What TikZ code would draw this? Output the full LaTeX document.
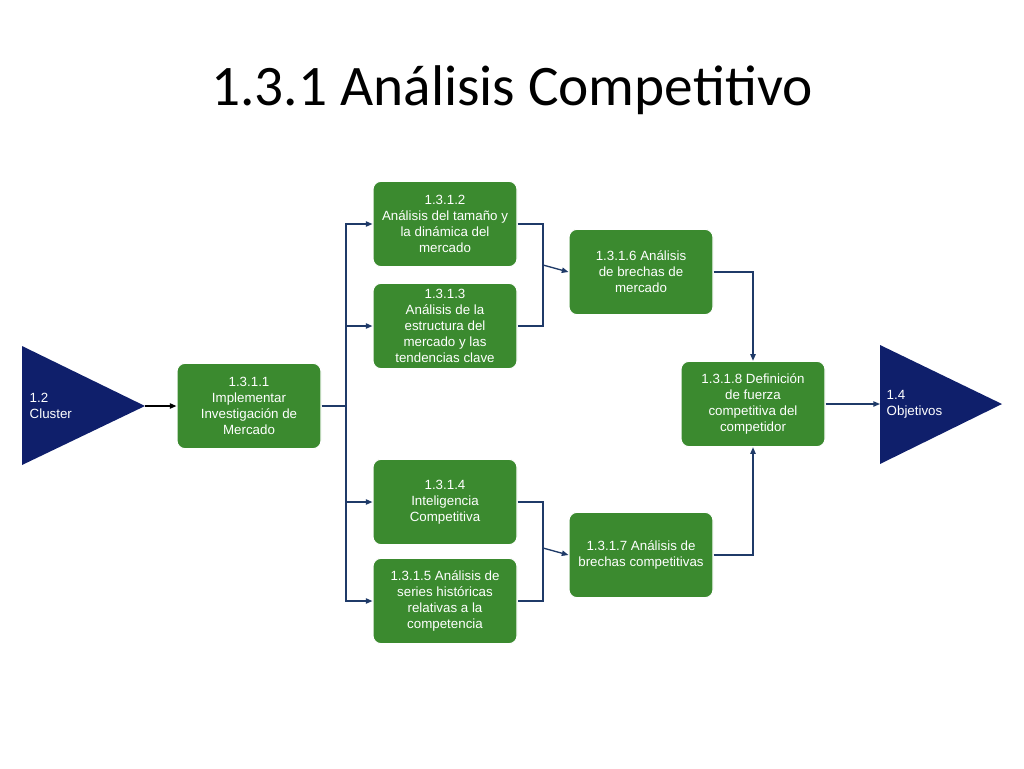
\documentclass[tikz,border=0pt]{standalone}
\usepackage{fontspec}
\setmainfont{Liberation Sans}
\newfontfamily\titlefont{Carlito}
\usetikzlibrary{arrows.meta}
\definecolor{boxg}{HTML}{3B8A2F}
\definecolor{navy}{HTML}{0F1F6B}
\definecolor{lin}{HTML}{1F3A68}
\begin{document}
\begin{tikzpicture}[x=0.75pt,y=-0.75pt,
 box/.style={draw=white,line width=0.8pt,fill=boxg,rounded corners=6pt,minimum width=108pt,minimum height=64pt,align=center,text=white,font=\fontsize{10}{12}\selectfont,inner sep=1pt},
 con/.style={draw=lin,line width=1pt},
 arr/.style={con,-{Triangle[length=5pt,width=4pt]}},
 tri/.style={fill=navy}]
\useasboundingbox (0,0) rectangle (1024,768);
\node[font=\titlefont\fontsize{43}{48}\selectfont] (title) at (512,90) {1.3.1 Análisis Competitivo};
\fill[tri] (22,346) -- (22,465) -- (145,406) -- cycle;
\node[text=white,align=left,anchor=west,font=\fontsize{10}{12}\selectfont] (t12) at (25,406) {1.2\\Cluster};
\fill[tri] (880,345) -- (880,464) -- (1002,404) -- cycle;
\node[text=white,align=left,anchor=west,font=\fontsize{10}{12}\selectfont] (t14) at (882,404) {1.4\\Objetivos};
\coordinate (ltip) at (145,406);
\coordinate (rtri) at (880,404);
\node[box] (b1) at (249,406) {1.3.1.1\\Implementar\\Investigación de\\Mercado};
\node[box] (b2) at (445,224) {1.3.1.2\\Análisis del tamaño y\\la dinámica del\\mercado};
\node[box] (b3) at (445,326) {1.3.1.3\\Análisis de la\\estructura del\\mercado y las\\tendencias clave};
\node[box] (b4) at (445,502) {1.3.1.4\\Inteligencia\\Competitiva};
\node[box] (b5) at (445,601) {1.3.1.5 Análisis de\\series históricas\\relativas a la\\competencia};
\node[box] (b6) at (641,272) {1.3.1.6 Análisis\\de brechas de\\mercado};
\node[box] (b7) at (641,555) {1.3.1.7 Análisis de\\brechas competitivas};
\node[box] (b8) at (753,404) {1.3.1.8 Definición\\de fuerza\\competitiva del\\competidor};
\draw[-{Triangle[length=5pt,width=4pt]},line width=1pt] (ltip) -- (b1.west);
\coordinate (tr) at (346,406);
\draw[con] (b1.east) -- (tr);
\draw[arr] (tr) |- (b2.west);
\draw[arr] (tr) |- (b3.west);
\draw[arr] (tr) |- (b4.west);
\draw[arr] (tr) |- (b5.west);
\coordinate (m1) at (543,265);
\coordinate (m2) at (543,548);
\draw[con] (b2.east) -| (m1) |- (b3.east);
\draw[con] (b4.east) -| (m2) |- (b5.east);
\draw[arr] (m1) -- (b6.west);
\draw[arr] (m2) -- (b7.west);
\draw[arr] (b6.east) -| (b8.north);
\draw[arr] (b7.east) -| (b8.south);
\draw[arr] (b8.east) -- (rtri);
\end{tikzpicture}
\end{document}
